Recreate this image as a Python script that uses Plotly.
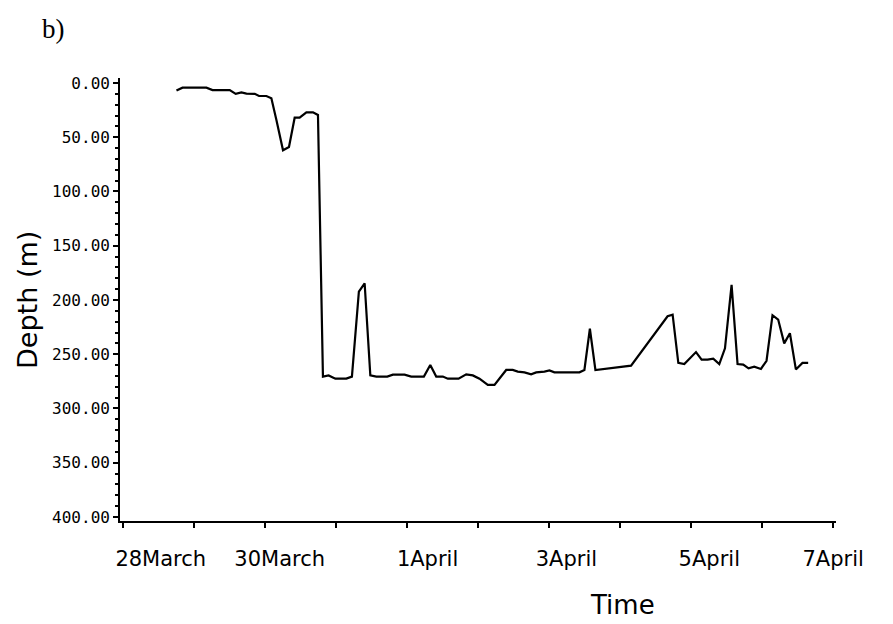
import plotly.graph_objects as go

# Time in days after 28 March 00:00, depth in metres
time_days = [0.755, 0.840, 1.177, 1.262, 1.505, 1.589, 1.669, 1.740, 1.857, 1.917,
             2.021, 2.091, 2.162, 2.255, 2.339, 2.419, 2.489, 2.584, 2.677, 2.747,
             2.817, 2.897, 2.992, 3.146, 3.225, 3.323, 3.404, 3.484, 3.568, 3.723,
             3.802, 3.966, 4.060, 4.238, 4.328, 4.412, 4.505, 4.575, 4.726, 4.834,
             4.927, 5.021, 5.138, 5.232, 5.397, 5.489, 5.560, 5.654, 5.748, 5.819,
             5.935, 6.006, 6.076, 6.428, 6.498, 6.575, 6.653, 6.779, 7.155, 7.669,
             7.740, 7.820, 7.904, 8.069, 8.148, 8.232, 8.312, 8.397, 8.477, 8.570,
             8.654, 8.734, 8.809, 8.889, 8.983, 9.062, 9.146, 9.226, 9.311, 9.391,
             9.475, 9.568, 9.648]
depth_m = [7, 4.3, 4.3, 6.5, 6.5, 10, 8.6, 9.8, 10, 12,
           12, 14, 34, 62, 59, 32, 32, 27, 27, 29.5,
           270.6, 269.5, 272.5, 272.5, 270.6, 192.3, 184.6, 269.5, 270.6, 270.6,
           268.8, 268.8, 270.6, 270.6, 260, 270.6, 270.6, 272.5, 272.5, 268.5,
           269.5, 272.5, 278.3, 278.3, 264.5, 264.5, 266, 266.7, 268.5, 266.7,
           266, 265, 266.7, 266.7, 264.5, 226.5, 264.5, 263.6, 260.5, 215,
           213.5, 258, 259, 248, 255, 255, 254, 259, 244.5, 186,
           259, 259.6, 263, 261.5, 263.6, 256, 214, 218, 240, 230.7,
           264, 258, 258]

tick_label_pos = [0.534, 2.208, 4.290, 6.245, 8.256, 10.0]
tick_label_text = ["28March", "30March", "1April", "3April", "5April", "7April"]

x_range = [-0.04, 10.04]
y_range = [403.7, -4.6]

fig = go.Figure()
fig.add_trace(go.Scatter(x=time_days, y=depth_m, mode="lines",
                         line=dict(color="black", width=2.2), showlegend=False,
                         hoverinfo="skip"))
fig.add_trace(go.Scatter(x=[tick_label_pos[0]], y=[None], xaxis="x2", yaxis="y",
                         mode="lines", showlegend=False, hoverinfo="skip"))

fig.update_layout(
    width=893, height=624,
    margin=dict(l=120, r=57, t=78, b=103),
    paper_bgcolor="white", plot_bgcolor="white",
    xaxis=dict(range=x_range, showgrid=False, zeroline=False,
               showline=True, linecolor="black", linewidth=1.8,
               ticks="outside", tickcolor="black", ticklen=5, tickwidth=1.5,
               tick0=0, dtick=1, showticklabels=False),
    xaxis2=dict(range=x_range, overlaying="x", anchor="y", side="bottom",
                showgrid=False, zeroline=False, showline=False, ticks="",
                tickmode="array", tickvals=tick_label_pos, ticktext=tick_label_text,
                ticklabelstandoff=23,
                tickfont=dict(family="DejaVu Sans", size=21, color="black")),
    yaxis=dict(range=y_range, showgrid=False, zeroline=False,
               showline=True, linecolor="black", linewidth=1.8,
               ticks="outside", tickcolor="black", ticklen=5, tickwidth=1.5,
               tick0=0, dtick=50, tickformat=".2f",
               tickfont=dict(family="DejaVu Sans Mono", size=16, color="black"),
               minor=dict(ticks="outside", ticklen=3, tickcolor="black",
                          tickwidth=1.5, dtick=10, showgrid=False)),
    annotations=[
        dict(text="Depth (m)", xref="paper", yref="paper", x=-0.1285, y=0.499,
             xanchor="center", yanchor="middle", textangle=-90, showarrow=False,
             font=dict(family="DejaVu Sans", size=27, color="black")),
        dict(text="Time", xref="paper", yref="paper", x=0.7025, y=-0.1896,
             xanchor="center", yanchor="middle", showarrow=False,
             font=dict(family="DejaVu Sans", size=26, color="black")),
        dict(text="b)", xref="paper", yref="paper", x=-0.1117, y=1.1106,
             xanchor="left", yanchor="middle", showarrow=False,
             font=dict(family="Liberation Serif", size=27, color="black")),
    ],
)

fig.write_html("out.html")
